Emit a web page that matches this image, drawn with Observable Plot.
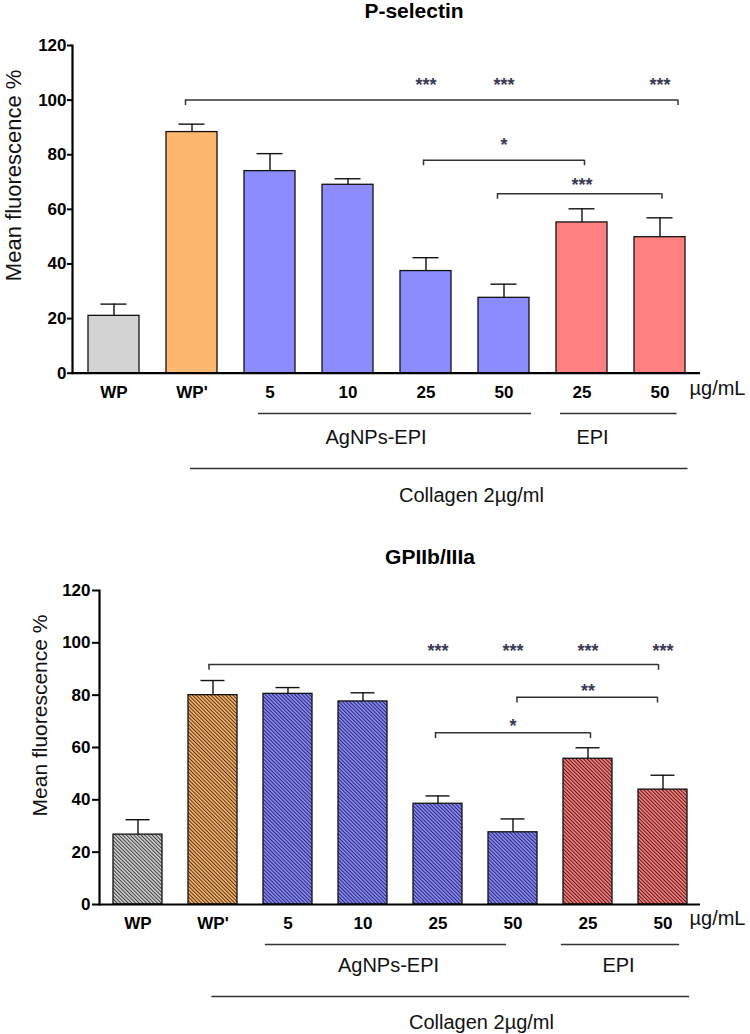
<!DOCTYPE html>
<html><head><meta charset="utf-8">
<script src="https://cdn.jsdelivr.net/npm/d3@7"></script>
<script src="https://cdn.jsdelivr.net/npm/@observablehq/plot@0.6"></script>
<style>
body{margin:0;background:#fff;font-family:"Liberation Sans",Arial,sans-serif;}
#page{position:relative;width:750px;height:1034px;overflow:hidden;background:#fff;}
.title{position:absolute;font-weight:bold;font-size:21px;transform:translateX(-50%);white-space:nowrap;line-height:22px;color:#000;}
.chart{position:absolute;left:0;}
</style></head><body><div id="page"></div>
<script>
// ---- data ----
const ids = ["WP","WPp","A5","A10","A25","A50","E25","E50"];
const tickLabels = ["WP","WP'","5","10","25","50","25","50"];
const barColors = ["#d3d3d3","#fdb76e","#8c8cff","#8c8cff","#8c8cff","#8c8cff","#ff8080","#ff8080"];
const yTicks = [0,20,40,60,80,100,120];

const selectinMean = [21.0, 88.3, 74.0, 69.0, 37.4, 27.6, 55.2, 49.8];
const selectinSD   = [4.3, 2.9, 6.4, 2.2, 4.9, 5.0, 5.0, 7.1];
const gpMean = [26.7, 80.0, 80.5, 77.6, 38.5, 27.6, 55.7, 43.9];
const gpSD   = [5.7, 5.6, 2.4, 3.3, 3.0, 5.1, 4.2, 5.5];

const selBracketFrom = ["WPp","A25","A50"];
const selBracketTo   = ["E50","E25","E50"];
const selBracketY    = [100, 78, 65.7];
const selStarAt   = ["A25","A50","E50","A50","E25"];
const selStarY    = [107, 107, 107, 85, 70.5];
const selStarText = ["***","***","***","*","***"];

const gpBracketFrom = ["WPp","A50","A25"];
const gpBracketTo   = ["E50","E50","E25"];
const gpBracketY    = [91.7, 79.2, 65.6];
const gpStarAt   = ["A25","A50","E25","E50","E25","A50"];
const gpStarY    = [98.7, 98.7, 98.7, 98.7, 83.4, 70];
const gpStarText = ["***","***","***","***","**","*"];

const groupFrom  = ["A5","E25","WPp"];
const groupTo    = ["A50","E50","E50"];
const groupLabel = ["AgNPs-EPI","EPI","Collagen 2\u00b5g/ml"];
const unitLabel = "\u00b5g/mL";
const yLabel = "Mean fluorescence %";
const titles = ["P-selectin","GPIIb/IIIa"];

// ---- layout (pixels) ----
const layouts = [
  {title: {x: 414, y: 0}, top: 24, height: 510, marginTop: 21, marginBottom: 161.3, marginLeft: 72, marginRight: 50,
   tickSize: 5, tickPadding: 1, xPad: 13, capInset: 12.5, drop: 2,
   yLabelDx: -59, yLabelDy: -34, yLabelSize: 22, unitDx: -11, unitDy: 15.5,
   groupLineDy: [40.3, 40.3, 95.3], groupOff: [[-11.5, 27.5], [-21.5, 17], [-1.5, 28]],
   groupLabelDx: [106, 10.5, 279.5], groupLabelDy: [64, 64, 122.3],
   bracketOff: [[-6.5, 18], [-2.5, 2.5], [-6.5, 2]]},
  {title: {x: 430, y: 546}, top: 566, height: 468, marginTop: 24, marginBottom: 130, marginLeft: 99, marginRight: 50,
   tickSize: 7, tickPadding: 2, xPad: 12, capInset: 12.5, drop: 2.2,
   yLabelDx: -59, yLabelDy: -32, yLabelSize: 21, unitDx: -11, unitDy: 14,
   groupLineDy: [40, 40, 92], groupOff: [[-22.5, -6.5], [-26.5, 16.5], [-1, 26.5]],
   groupLabelDx: [100.5, 30.5, 268.5], groupLabelDy: [61, 61, 117.7],
   bracketOff: [[-4, -4.5], [4, -5.5], [-2.5, 2.5]]}
];
const xPaddingInner = 0.35, xPaddingOuter = 0.18;

const hatchIds = {"#d3d3d3": "h-grey", "#fdb76e": "h-orange", "#8c8cff": "h-blue", "#ff8080": "h-red"};
const hatchLine = {"#d3d3d3": "#3a3a3a", "#fdb76e": "#4a3018", "#8c8cff": "#262660", "#ff8080": "#4a1818"};

function makeChart(L, mean, sd, bFrom, bTo, bY, sAt, sY, sText, hatched) {
  const rows = ids.map((id, i) => ({id, mean: mean[i], top: mean[i] + sd[i],
    fill: hatched ? `url(#${hatchIds[barColors[i]]})` : barColors[i]}));
  const xOpts = {type: "band", domain: ids, paddingInner: xPaddingInner, paddingOuter: xPaddingOuter};
  // horizontal rules on a band scale run from band start to band end: shift by half a band
  const xs = Plot.scale({x: {...xOpts, range: [L.marginLeft, 750 - L.marginRight]}});
  const hb = (xs.bandwidth || 0) / 2;
  const ink = "#111";
  const marks = [
    Plot.barY(rows, {x: "id", y: "mean", fill: "fill", stroke: ink, strokeWidth: 1.3}),
    Plot.ruleX(rows, {x: "id", y1: "mean", y2: "top", stroke: ink, strokeWidth: 1.4}),
    Plot.tickY(rows, {x: "id", y: "top", stroke: ink, strokeWidth: 1.4, insetLeft: L.capInset, insetRight: L.capInset}),
    Plot.ruleY([0], {stroke: "#000", strokeWidth: 2.2}),
    Plot.frame({anchor: "left", stroke: "#000", strokeWidth: 2.2}),
    Plot.axisY({ticks: yTicks, tickSize: L.tickSize, tickPadding: L.tickPadding, fontSize: 17, fontWeight: "bold",
      label: null, stroke: "#000", strokeWidth: 2, fill: "#000"}),
    Plot.axisX({tickSize: 0, tickPadding: L.xPad, tickFormat: d => tickLabels[ids.indexOf(d)], fontSize: 17,
      fontWeight: "bold", label: null, fill: "#000"}),
    Plot.text([yLabel], {frameAnchor: "left", textAnchor: "middle", lineAnchor: "middle", rotate: -90,
      dx: L.yLabelDx, dy: L.yLabelDy, fontSize: L.yLabelSize, fill: "#111"}),
    Plot.text([unitLabel], {frameAnchor: "bottom-right", textAnchor: "start", lineAnchor: "middle",
      dx: L.unitDx, dy: L.unitDy, fontSize: 20, fill: "#111"})
  ];
  groupFrom.forEach((f, i) => {
    const g = [{from: f, to: groupTo[i], label: groupLabel[i]}];
    const [o1, o2] = L.groupOff[i];
    marks.push(Plot.ruleY(g, {x1: "from", x2: "to", y: () => 0, dy: L.groupLineDy[i],
      insetLeft: hb + o1, insetRight: hb - o2, stroke: "#333", strokeWidth: 1.5}));
    marks.push(Plot.text(g, {x: "from", y: () => 0, text: "label", dx: L.groupLabelDx[i], dy: L.groupLabelDy[i],
      fontSize: 20, fill: "#111"}));
  });
  bFrom.forEach((f, i) => {
    const b = [{from: f, to: bTo[i], y: bY[i], y2: bY[i] - L.drop}];
    const [o1, o2] = L.bracketOff[i];
    marks.push(Plot.ruleY(b, {x1: "from", x2: "to", y: "y", insetLeft: hb + o1, insetRight: hb - o2, stroke: "#333", strokeWidth: 1.5}));
    marks.push(Plot.ruleX(b, {x: "from", y1: "y", y2: "y2", dx: o1, stroke: "#333", strokeWidth: 1.5}));
    marks.push(Plot.ruleX(b, {x: "to", y1: "y", y2: "y2", dx: o2, stroke: "#333", strokeWidth: 1.5}));
  });
  const stars = sAt.map((a, i) => ({at: a, y: sY[i], t: sText[i]}));
  marks.push(Plot.text(stars, {x: "at", y: "y", text: "t", fontSize: 18, fontWeight: "bold", dy: 4.5, fill: "#3a3a55"}));

  const svg = Plot.plot({
    width: 750, height: L.height,
    marginTop: L.marginTop, marginBottom: L.marginBottom, marginLeft: L.marginLeft, marginRight: L.marginRight,
    style: {fontFamily: "'Liberation Sans', Arial, sans-serif", color: "#000", background: "#fff", overflow: "visible"},
    x: {...xOpts, axis: null},
    y: {domain: [0, 120], axis: null},
    color: {type: "identity"},
    marks
  });
  if (hatched) {
    const ns = "http://www.w3.org/2000/svg";
    const defs = document.createElementNS(ns, "defs");
    for (const c of Object.keys(hatchIds)) {
      const p = document.createElementNS(ns, "pattern");
      p.setAttribute("id", hatchIds[c]);
      p.setAttribute("patternUnits", "userSpaceOnUse");
      p.setAttribute("width", "2.6"); p.setAttribute("height", "2.6");
      p.setAttribute("patternTransform", "rotate(-45)");
      const r1 = document.createElementNS(ns, "rect");
      r1.setAttribute("width", "2.6"); r1.setAttribute("height", "2.6"); r1.setAttribute("fill", c);
      const r2 = document.createElementNS(ns, "rect");
      r2.setAttribute("width", "1.0"); r2.setAttribute("height", "2.6"); r2.setAttribute("fill", hatchLine[c]);
      p.appendChild(r1); p.appendChild(r2); defs.appendChild(p);
    }
    svg.insertBefore(defs, svg.firstChild);
  }
  return svg;
}

const page = document.getElementById("page");
const charts = [
  makeChart(layouts[0], selectinMean, selectinSD, selBracketFrom, selBracketTo, selBracketY, selStarAt, selStarY, selStarText, false),
  makeChart(layouts[1], gpMean, gpSD, gpBracketFrom, gpBracketTo, gpBracketY, gpStarAt, gpStarY, gpStarText, true)
];
charts.forEach((svg, i) => {
  const L = layouts[i];
  const wrap = document.createElement("div");
  wrap.className = "chart";
  wrap.style.top = L.top + "px";
  wrap.appendChild(svg);
  page.appendChild(wrap);
  const t = document.createElement("div");
  t.className = "title";
  t.textContent = titles[i];
  t.style.left = L.title.x + "px";
  t.style.top = L.title.y + "px";
  page.appendChild(t);
});
</script></body></html>
